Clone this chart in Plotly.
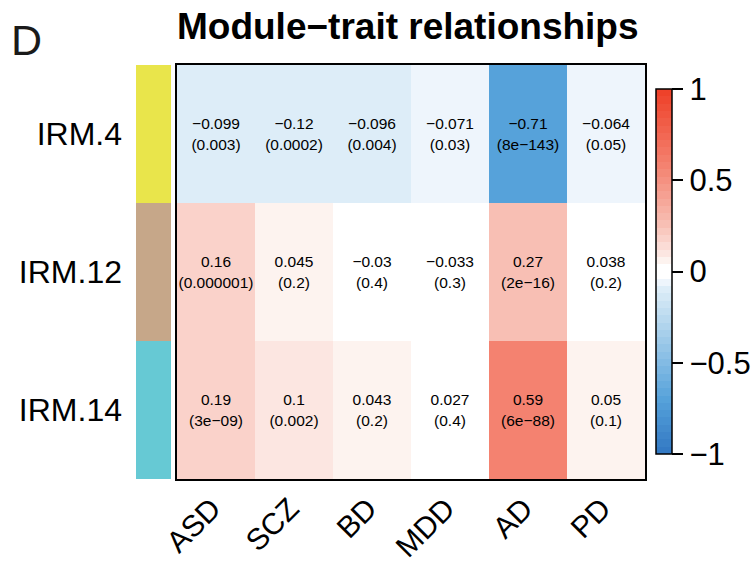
import plotly.graph_objects as go

# ---------------- data ----------------
modules = ["IRM.4", "IRM.12", "IRM.14"]
module_colors = ["#E9E54B", "#C6A789", "#66C9D4"]
traits = ["ASD", "SCZ", "BD", "MDD", "AD", "PD"]

cor_irm4 = [-0.099, -0.12, -0.096, -0.071, -0.71, -0.064]
cor_irm12 = [0.16, 0.045, -0.03, -0.033, 0.27, 0.038]
cor_irm14 = [0.19, 0.1, 0.043, 0.027, 0.59, 0.05]

p_irm4 = ["0.003", "0.0002", "0.004", "0.03", "8e\u2212143", "0.05"]
p_irm12 = ["0.000001", "0.2", "0.4", "0.3", "2e\u221216", "0.2"]
p_irm14 = ["3e\u221209", "0.002", "0.2", "0.4", "6e\u221288", "0.1"]

cbar_tickvals = [-1, -0.5, 0, 0.5, 1]
cbar_ticktext = ["\u22121", "\u22120.5", "0", "0.5", "1"]

# ---------------- derived ----------------
z = [cor_irm4, cor_irm12, cor_irm14]
pvals = [p_irm4, p_irm12, p_irm14]


def fmt(v):
    s = f"{v:g}"
    return s.replace("-", "\u2212")


text = [[f"{fmt(v)}<br>({p})" for v, p in zip(zr, pr)] for zr, pr in zip(z, pvals)]

# blue-white-red palette, 50 discrete steps (piecewise anchors)
blue_anchors = [(0.0, (255, 255, 255)), (0.042, (238, 245, 252)), (0.083, (221, 237, 248)),
                (0.125, (212, 232, 245)), (0.708, (86, 162, 218)), (1.0, (52, 122, 196))]
red_anchors = [(0.0, (255, 255, 255)), (0.042, (253, 243, 239)), (0.083, (252, 230, 225)),
               (0.167, (250, 210, 202)), (0.25, (248, 191, 180)), (0.583, (244, 130, 112)),
               (1.0, (238, 66, 42))]


def interp(anchors, f):
    for (f0, c0), (f1, c1) in zip(anchors[:-1], anchors[1:]):
        if f0 <= f <= f1:
            t = (f - f0) / (f1 - f0) if f1 > f0 else 0
            return tuple(round(a + (b - a) * t) for a, b in zip(c0, c1))
    return anchors[-1][1]


n = 50
half = n // 2
cols = []
for i in range(half):
    f = 1 - i / (half - 1)
    cols.append(interp(blue_anchors, f))
for i in range(half):
    f = i / (half - 1)
    cols.append(interp(red_anchors, f))

colorscale = []
for i, c in enumerate(cols):
    cs = f"rgb({c[0]},{c[1]},{c[2]})"
    colorscale.append([i / n, cs])
    colorscale.append([(i + 1) / n, cs])

side_scale = []
for i, c in enumerate(module_colors):
    side_scale.append([i / len(module_colors), c])
    side_scale.append([(i + 1) / len(module_colors), c])

FONT = "Liberation Sans, Arial, Helvetica, sans-serif"

fig = go.Figure()

fig.add_trace(go.Heatmap(
    z=z, x=traits, y=modules, text=text, texttemplate="%{text}",
    textfont=dict(family=FONT, size=15.5, color="black"),
    colorscale=colorscale, zmin=-1, zmax=1, xgap=0, ygap=0,
    hoverinfo="skip",
    colorbar=dict(
        x=656 / 756, xanchor="left", xpad=0, ypad=0,
        y=(567 - 271.5) / 567, yanchor="middle",
        len=365 / 567, lenmode="fraction", thickness=16,
        outlinewidth=1.5, outlinecolor="black",
        tickmode="array", tickvals=cbar_tickvals, ticktext=cbar_ticktext,
        ticks="outside", ticklen=11, tickwidth=1.5, tickcolor="black",
        tickfont=dict(family=FONT, size=31, color="black"),
    ),
    xaxis="x", yaxis="y",
))

fig.add_trace(go.Heatmap(
    z=[[i] for i in range(len(modules))], x=[0], y=modules,
    colorscale=side_scale, zmin=-0.5, zmax=len(modules) - 0.5,
    showscale=False, hoverinfo="skip", xaxis="x2", yaxis="y2",
))

fig.update_layout(
    template="none",
    width=756, height=567, autosize=False,
    margin=dict(l=0, r=0, t=0, b=0, autoexpand=False),
    paper_bgcolor="white", plot_bgcolor="white",
    font=dict(family=FONT, color="black"),
    xaxis=dict(domain=[177 / 756, 645 / 756], anchor="y", tickangle=-45,
               automargin=False,
               showline=True, mirror=True, linecolor="black", linewidth=2,
               showgrid=False, zeroline=False, ticks="",
               tickfont=dict(family=FONT, size=30, color="black"),
               ticklabelstandoff=-2, ticklabelshift=-4),
    yaxis=dict(domain=[(567 - 479) / 567, (567 - 65) / 567], anchor="x",
               automargin=False,
               autorange="reversed", showticklabels=False,
               showline=True, mirror=True, linecolor="black", linewidth=2,
               showgrid=False, zeroline=False, ticks=""),
    xaxis2=dict(domain=[136 / 756, 171 / 756], anchor="y2", showticklabels=False,
                automargin=False,
                showgrid=False, zeroline=False, showline=False, ticks=""),
    yaxis2=dict(domain=[(567 - 479) / 567, (567 - 65) / 567], anchor="x2",
                automargin=False,
                autorange="reversed", showgrid=False, zeroline=False,
                showline=False, ticks="", ticklabelstandoff=13,
                tickfont=dict(family=FONT, size=32, color="black")),
    annotations=[
        dict(text="<b>Module\u2212trait relationships</b>", x=408 / 756, y=1 - 26 / 567,
             xref="paper", yref="paper", xanchor="center", yanchor="middle",
             showarrow=False, font=dict(family=FONT, size=37, color="black")),
        dict(text="D", x=9 / 756, y=1 - 40 / 567, xref="paper", yref="paper",
             xanchor="left", yanchor="middle", showarrow=False,
             font=dict(family=FONT, size=43, color="#1a1a1a")),
    ],
)

fig.write_html("out.html", config={"displayModeBar": False},
               post_script="document.body.style.margin='0';")
